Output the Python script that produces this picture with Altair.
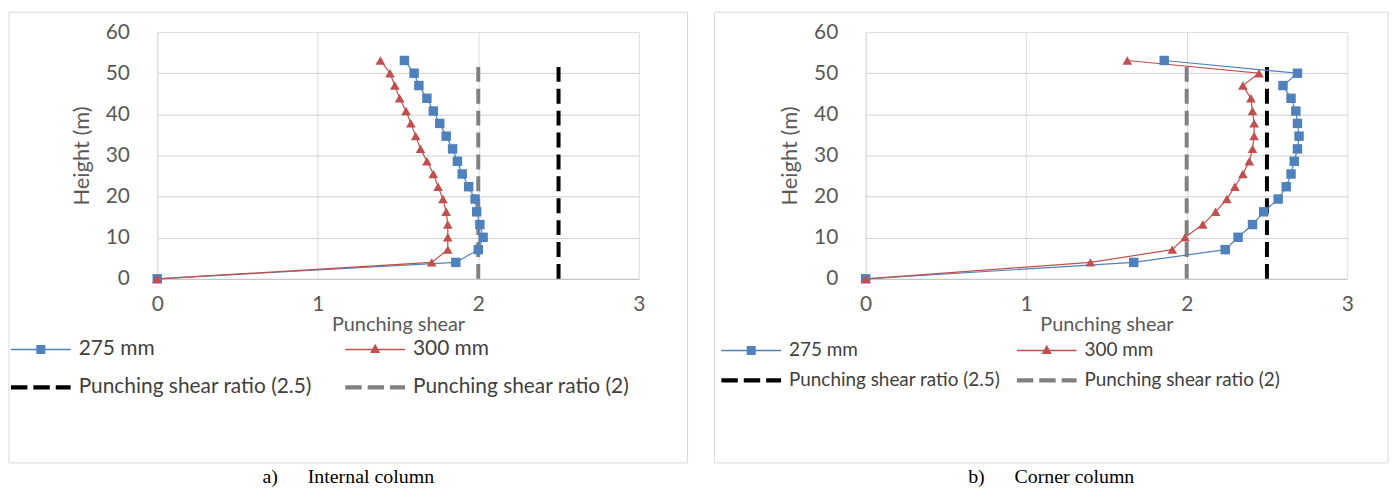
import altair as alt
import pandas as pd

# ---------------- data ----------------
heights = [0, 4.0, 7.1, 10.1, 13.2, 16.3, 19.4, 22.4, 25.5, 28.6, 31.6, 34.7,
           37.8, 40.8, 43.9, 47.0, 50.0, 53.1]

internal_275 = [0, 1.86, 2.00, 2.03, 2.01, 1.99, 1.98, 1.94, 1.90, 1.87, 1.84,
                1.80, 1.76, 1.72, 1.68, 1.63, 1.60, 1.54]
internal_300 = [0, 1.71, 1.81, 1.81, 1.81, 1.80, 1.78, 1.75, 1.72, 1.68, 1.64,
                1.61, 1.58, 1.55, 1.51, 1.48, 1.45, 1.39]

corner_275 = [0, 1.67, 2.24, 2.32, 2.41, 2.48, 2.57, 2.62, 2.65, 2.67, 2.69,
              2.70, 2.69, 2.68, 2.65, 2.60, 2.69, 1.86]
corner_300 = [0, 1.40, 1.91, 1.99, 2.10, 2.18, 2.25, 2.30, 2.35, 2.39, 2.41,
              2.42, 2.42, 2.41, 2.40, 2.35, 2.45, 1.63]

series_names = ["275 mm", "300 mm", "Punching shear ratio (2.5)", "Punching shear ratio (2)"]
series_colors = ["#4F81BD", "#C0504D", "#000000", "#808080"]
ratio_values = [2.5, 2.0]
ratio_span = [0, 53.1]

x_ticks = [0, 1, 2, 3]
y_ticks = [0, 10, 20, 30, 40, 50, 60]

captions = ["a)\u00a0\u00a0\u00a0\u00a0\u00a0\u00a0Internal column",
            "b)\u00a0\u00a0\u00a0\u00a0\u00a0\u00a0Corner column"]

# ---------------- styling ----------------
FONT = "Lato"
TXT = "#595959"
W, H = 484, 248

# legend symbols (path units scaled by 15 px): line + marker, or three thick dashes
legend_paths = [
    "M-2,-0.05H2V0.05H-2Z M-0.3,-0.3H0.3V0.3H-0.3Z",
    "M-2,-0.05H2V0.05H-2Z M0,-0.38L0.34,0.24H-0.34Z",
    "M-2,-0.14H-0.9V0.14H-2Z M-0.5,-0.14H0.6V0.14H-0.5Z M1,-0.14H2V0.14H1Z",
    "M-2,-0.14H-0.9V0.14H-2Z M-0.5,-0.14H0.6V0.14H-0.5Z M1,-0.14H2V0.14H1Z",
]

xaxis = alt.Axis(values=x_ticks, grid=True, ticks=False, domain=True,
                 domainColor="#bfbfbf", domainWidth=1, labelFlush=False,
                 gridColor={"condition": {"test": "datum.value == 3", "value": "transparent"},
                            "value": "#dcdcdc"},
                 labelFont=FONT, labelFontSize=21, labelColor=TXT, labelPadding=15,
                 titleFont=FONT, titleFontSize=20, titleColor=TXT,
                 titleFontWeight="normal", titlePadding=0)
yaxis = alt.Axis(values=y_ticks, grid=True, ticks=False, domain=False, labelFlush=False,
                 gridColor={"condition": {"test": "datum.value == 0 || datum.value == 60",
                                          "value": "transparent"},
                            "value": "#d0d0d0"},
                 labelFont=FONT, labelFontSize=21, labelColor=TXT, labelPadding=28,
                 titleFont=FONT, titleFontSize=22, titleColor=TXT,
                 titleFontWeight="normal", titlePadding=12)

xscale = alt.Scale(domain=[0, 3], nice=False)
yscale = alt.Scale(domain=[0, 60], nice=False)
cscale = alt.Scale(domain=series_names, range=series_colors)


def panel(v275, v300, caption, left_pad, right_pad, legend_x, legend_y,
          row_pad, col_pad, legend_font):
    rows = []
    for i, h in enumerate(heights):
        rows.append({"series": series_names[0], "v": v275[i], "h": h, "i": i})
        rows.append({"series": series_names[1], "v": v300[i], "h": h, "i": i})
    data = pd.DataFrame(rows)
    ref = []
    for name, val in zip(series_names[2:], ratio_values):
        for j, h in enumerate(ratio_span):
            ref.append({"series": name, "v": val, "h": h, "i": j})
    refdf = pd.DataFrame(ref)

    leg = alt.Legend(title=None, orient="none", legendX=legend_x, legendY=legend_y,
                     direction="horizontal", columns=2,
                     columnPadding=col_pad, rowPadding=row_pad,
                     symbolSize=900, symbolOffset=15, symbolStrokeWidth=0, symbolOpacity=1,
                     labelOffset=23,
                     labelFont=FONT, labelFontSize=legend_font, labelColor="#404040",
                     labelLimit=600)

    X = alt.X("v:Q", scale=xscale, axis=xaxis, title="Punching shear")
    Y = alt.Y("h:Q", scale=yscale, axis=yaxis, title="Height (m)")
    C = alt.Color("series:N", scale=cscale, legend=leg)

    frame = alt.Chart(alt.Data(values=[{"k": 1}])).mark_rect(
        fillOpacity=0, stroke="#d9d9d9", strokeWidth=1
    ).encode(x=alt.value(-left_pad), x2=alt.value(W + right_pad),
             y=alt.value(-20), y2=alt.value(433))

    # legend-defining layer (first colour layer): its points sit outside the plot and are clipped
    legend_layer = alt.Chart(pd.DataFrame({"series": series_names})).mark_point(
        filled=True, opacity=0, clip=True
    ).encode(
        x=alt.value(-300), y=alt.value(-300),
        color=C,
        shape=alt.Shape("series:N", scale=alt.Scale(domain=series_names, range=legend_paths),
                        legend=leg),
    )

    reflines = alt.Chart(refdf).mark_line(
        strokeWidth=4, strokeDash=[15, 7], strokeCap="butt"
    ).encode(x=X, y=Y, color=C, order=alt.Order("i:Q"))

    lines = alt.Chart(data).mark_line(strokeWidth=1.2).encode(
        x=X, y=Y, color=C, order=alt.Order("i:Q"))

    sq = alt.Chart(data).transform_filter(
        alt.datum.series == series_names[0]
    ).mark_point(shape="square", filled=True, size=90, opacity=1).encode(x=X, y=Y, color=C)

    tri = alt.Chart(data).transform_filter(
        alt.datum.series == series_names[1]
    ).mark_point(shape="triangle-up", filled=True, size=95, opacity=1).encode(x=X, y=Y, color=C)

    return alt.layer(frame, legend_layer, reflines, lines, sq, tri).properties(
        width=W, height=H,
        title=alt.TitleParams(caption, orient="bottom", anchor="middle", frame="bounds",
                              font="Liberation Serif", fontSize=20, fontWeight="normal",
                              color="#000000", offset=4),
    )


left = panel(internal_275, internal_300, captions[0], 149, 49, -147, 304, 13, 33, 21)
right = panel(corner_275, corner_300, captions[1], 152, 41, -145, 305, 5, 16, 19)

chart = alt.hconcat(left, right, spacing=25).resolve_scale(
    color="independent", shape="independent"
).resolve_legend(color="independent", shape="independent").properties(
    padding={"left": 0, "top": 2, "right": 0, "bottom": 0}
).configure_view(stroke=None).configure(background="white")

chart.save("out.html", embed_options={"renderer": "svg", "actions": False})
